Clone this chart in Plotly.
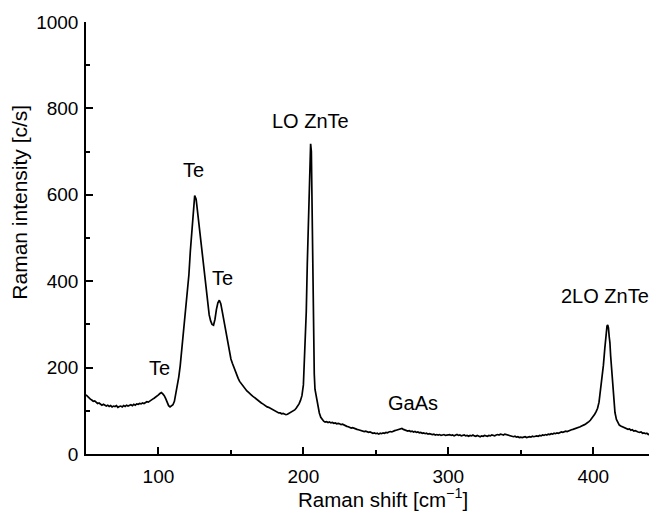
import plotly.graph_objects as go

shift = [50, 51, 52, 53, 54, 55, 56, 57, 58, 59, 60, 61, 62, 63, 64, 65, 66, 67, 68, 69,
         70, 71, 72, 73, 74, 75, 76, 77, 78, 79, 80, 81, 82, 83, 84, 85, 86, 87, 88, 89,
         90, 91, 92, 93, 94, 95, 96, 97, 98, 99, 100, 101, 102, 103, 104, 105, 106, 107, 108, 109,
         110, 111, 112, 113, 114, 115, 116, 117, 118, 119, 120, 121, 122, 123, 124, 125, 126, 127, 128, 129,
         130, 131, 132, 133, 134, 135, 136, 137, 138, 139, 140, 141, 142, 143, 144, 145, 146, 147, 148, 149,
         150, 151, 152, 153, 154, 155, 156, 157, 158, 159, 160, 161, 162, 163, 164, 165, 166, 167, 168, 169,
         170, 171, 172, 173, 174, 175, 176, 177, 178, 179, 180, 181, 182, 183, 184, 185, 186, 187, 188, 189,
         190, 191, 192, 193, 194, 195, 196, 197, 198, 199, 200, 201, 202, 202.7, 203.5, 204.3, 205, 205.5, 206, 206.5,
         207, 207.5, 208, 209, 210, 211, 212, 213, 214, 215, 216, 217, 218, 219, 220, 221, 222, 223, 224, 225,
         226, 227, 228, 229, 230, 231, 232, 233, 234, 235, 236, 237, 238, 239, 240, 241, 242, 243, 244, 245,
         246, 247, 248, 249, 250, 251, 252, 253, 254, 255, 256, 257, 258, 259, 260, 261, 262, 263, 264, 265,
         266, 267, 268, 269, 270, 271, 272, 273, 274, 275, 276, 277, 278, 279, 280, 281, 282, 283, 284, 285,
         286, 287, 288, 289, 290, 291, 292, 293, 294, 295, 296, 297, 298, 299, 300, 301, 302, 303, 304, 305,
         306, 307, 308, 309, 310, 311, 312, 313, 314, 315, 316, 317, 318, 319, 320, 321, 322, 323, 324, 325,
         326, 327, 328, 329, 330, 331, 332, 333, 334, 335, 336, 337, 338, 339, 340, 341, 342, 343, 344, 345,
         346, 347, 348, 349, 350, 351, 352, 353, 354, 355, 356, 357, 358, 359, 360, 361, 362, 363, 364, 365,
         366, 367, 368, 369, 370, 371, 372, 373, 374, 375, 376, 377, 378, 379, 380, 381, 382, 383, 384, 385,
         386, 387, 388, 389, 390, 391, 392, 393, 394, 395, 396, 397, 398, 399, 400, 401, 402, 403, 404, 405,
         406, 407, 408, 409, 409.5, 410, 410.5, 411, 411.5, 412, 413, 414, 415, 416, 417, 418, 419, 420, 421, 422,
         423, 424, 425, 426, 427, 428, 429, 430, 431, 432, 433, 434, 435, 436, 437, 438, 439, 440, 441, 442,
         443, 444, 445]

intensity = [137, 133, 130, 127, 125, 122, 123, 119, 117, 118, 115, 113, 115, 112, 111, 113, 110, 112, 109, 111,
             110, 112, 108, 110, 111, 109, 112, 110, 113, 111, 112, 114, 112, 115, 113, 116, 115, 117, 116, 118,
             117, 119, 121, 120, 123, 124, 127, 129, 131, 134, 137, 140, 142, 139, 135, 128, 121, 112, 109, 111,
             114, 122, 138, 156, 178, 204, 238, 275, 310, 345, 378, 415, 470, 520, 570, 598, 590, 560, 528, 500,
             475, 440, 405, 370, 340, 322, 308, 300, 298, 312, 335, 350, 356, 348, 330, 310, 290, 270, 252, 238,
             220, 210, 200, 190, 182, 175, 168, 163, 158, 153, 150, 146, 143, 141, 137, 134, 131, 128, 126, 123,
             121, 118, 116, 113, 112, 109, 108, 106, 104, 102, 100, 98, 97, 95, 95, 93, 94, 92, 91, 92,
             94, 95, 97, 99, 102, 106, 110, 116, 124, 135, 160, 230, 330, 441, 560, 660, 718, 700, 560, 400,
             270, 185, 150, 130, 110, 95, 85, 79, 76, 74, 75, 73, 74, 72, 73, 71, 72, 70, 71, 70,
             68, 69, 67, 66, 64, 63, 62, 60, 61, 59, 58, 57, 56, 55, 54, 53, 52, 53, 51, 50,
             51, 49, 48, 49, 47, 48, 46, 48, 47, 49, 48, 50, 49, 51, 52, 51, 53, 54, 55, 56,
             57, 58, 59, 57, 56, 55, 53, 54, 52, 53, 51, 52, 50, 51, 49, 50, 48, 49, 47, 48,
             46, 47, 46, 45, 46, 44, 45, 44, 45, 43, 44, 45, 43, 44, 44, 45, 43, 44, 42, 44,
             45, 43, 44, 42, 43, 44, 42, 43, 41, 43, 42, 44, 42, 41, 43, 42, 40, 42, 41, 43,
             42, 41, 43, 42, 44, 43, 42, 44, 45, 44, 46, 45, 44, 46, 45, 44, 43, 42, 41, 40,
             41, 39, 40, 38, 39, 38, 39, 40, 38, 39, 40, 39, 41, 40, 41, 42, 41, 43, 42, 44,
             43, 45, 44, 46, 45, 47, 46, 48, 47, 49, 48, 50, 51, 50, 52, 53, 52, 54, 55, 56,
             57, 58, 59, 60, 62, 63, 65, 66, 68, 70, 72, 75, 78, 82, 87, 92, 98, 106, 120, 145,
             175, 205, 245, 282, 296, 299, 292, 272, 258, 228, 185, 130, 96, 80, 72, 67, 65, 63, 61, 60,
             59, 57, 58, 55, 56, 53, 54, 52, 51, 50, 51, 48, 49, 47, 48, 45, 47, 46, 44, 43,
             44, 42, 43]

label_text = ["Te", "Te", "Te", "LO ZnTe", "GaAs", "2LO ZnTe"]
label_x = [100.7, 124, 144, 205, 275.7, 408.3]
label_y = [199, 657, 407, 772, 118, 365]

x_range = [50, 444]
y_range = [0, 1000]

FONT = "Liberation Sans, Arial, Helvetica, sans-serif"

fig = go.Figure()
fig.add_trace(go.Scatter(x=shift, y=intensity, mode="lines",
                         line=dict(color="black", width=1.7), showlegend=False,
                         hoverinfo="skip"))

for t, xv, yv in zip(label_text, label_x, label_y):
    fig.add_annotation(x=xv, y=yv, text=t, showarrow=False,
                       font=dict(family=FONT, size=20, color="black"),
                       xanchor="center", yanchor="middle")

fig.add_annotation(xref="paper", yref="paper", x=0.52, y=-0.102,
                   text="Raman shift [cm<sup>−1</sup>]", showarrow=False,
                   font=dict(family=FONT, size=20.5, color="black"),
                   xanchor="center", yanchor="middle")
fig.add_annotation(xref="paper", yref="paper", x=-0.1156, y=0.584,
                   text="Raman intensity [c/s]", showarrow=False, textangle=-90,
                   font=dict(family=FONT, size=21, color="black"),
                   xanchor="center", yanchor="middle")

axis_common = dict(showline=True, linecolor="black", linewidth=1.5,
                   ticks="inside", ticklen=7, tickwidth=1.5, tickcolor="black",
                   showgrid=False, zeroline=False, mirror=False,
                   tickfont=dict(family=FONT, size=19, color="black"))

fig.update_xaxes(range=x_range, tick0=0, dtick=100,
                 minor=dict(ticks="inside", ticklen=4, tickwidth=1.5, tickcolor="black", dtick=50, tick0=0, showgrid=False),
                 ticklabelstandoff=4, **axis_common)
fig.update_yaxes(range=y_range, tick0=0, dtick=200,
                 minor=dict(ticks="inside", ticklen=4, tickwidth=1.5, tickcolor="black", dtick=100, tick0=0, showgrid=False),
                 ticklabelstandoff=2, **axis_common)

# page body has an 8px default margin; compensate so the plot lands where the reference has it
fig.update_layout(width=649, height=509,
                  margin=dict(l=78, r=0, t=14, b=63),
                  paper_bgcolor="white", plot_bgcolor="white",
                  font=dict(family=FONT, color="black"))

fig.write_html("out.html")
